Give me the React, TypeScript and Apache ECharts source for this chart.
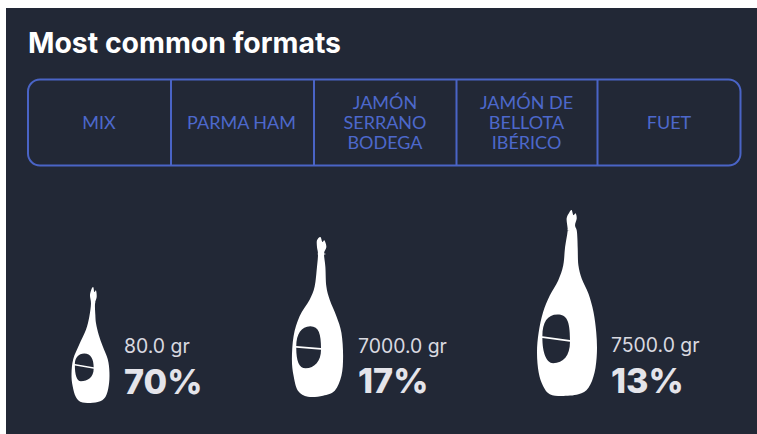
import React, { useEffect, useRef } from "react";
import * as echarts from "echarts";

const title = "Most common formats";
const tabs = [["MIX"], ["PARMA HAM"], ["JAMÓN", "SERRANO", "BODEGA"], ["JAMÓN DE", "BELLOTA", "IBÉRICO"], ["FUET"]];
const categories = ["Format A", "Format B", "Format C"];
const weights = ["80.0 gr", "7000.0 gr", "7500.0 gr"];
const shares = ["70%", "17%", "13%"];
const hamHeights = [116, 160, 186];

type P = number[][];
const closed = (pts: P) => {
  const n = pts.length;
  let d = `M${pts[0][0]} ${pts[0][1]}`;
  for (let i = 0; i < n; i++) {
    const a = pts[(i - 1 + n) % n], b = pts[i], c = pts[(i + 1) % n], e = pts[(i + 2) % n];
    const k = 1 / 6;
    d += `C${(b[0] + (c[0] - a[0]) * k).toFixed(1)} ${(b[1] + (c[1] - a[1]) * k).toFixed(1)} ${(c[0] - (e[0] - b[0]) * k).toFixed(1)} ${(c[1] - (e[1] - b[1]) * k).toFixed(1)} ${c[0]} ${c[1]}`;
  }
  return d + "Z";
};
const poly = (pts: P) => "M" + pts.map((p) => p.join(" ")).join("L") + "Z";

const ham1 =
  closed([[97,25],[102,20],[105,35],[110,30],[112,50],[107,70],[108,105],[110,130],[118,165],[130,200],[145,240],[150,280],[148,320],[138,355],[115,370],[70,372],[50,355],[40,320],[37,285],[42,240],[60,195],[80,150],[90,110],[95,70],[92,45]]) +
  "M103 264C103 240 95 222 75 222C58 222 47 235 47 254Z" +
  "M47 259C47 285 52 307 65 307C85 307 103 295 103 269Z" +
  poly([[95,67],[108,67],[108,69],[95,69]]);
const ham2 =
  closed([[112,30],[122,20],[128,35],[134,30],[140,50],[133,70],[137,110],[140,170],[150,210],[170,260],[185,310],[190,380],[185,440],[165,485],[130,500],[85,503],[55,485],[42,440],[37,390],[42,320],[60,260],[90,210],[105,170],[112,110],[115,72],[112,50]]) +
  "M124 356C124 315 118 290 92 290C65 290 50 315 50 350Z" +
  "M50 355C50 395 58 417 78 417C105 417 124 395 124 361Z" +
  poly([[114,70],[137,70],[137,73],[114,73]]);
const ham3 =
  closed([[133,22],[140,15],[145,30],[152,25],[155,40],[150,60],[155,75],[157,100],[158,130],[160,180],[170,220],[190,265],[205,320],[213,380],[215,440],[208,500],[190,545],[160,565],[110,570],[75,565],[55,540],[42,500],[37,440],[42,380],[55,320],[75,270],[100,225],[115,180],[120,130],[127,85],[128,70],[125,40]]) +
  "M135 403C135 345 125 327 98 327C68 327 53 350 53 392Z" +
  "M53 397C53 440 65 472 85 472C115 472 135 450 135 408Z" +
  poly([[128,73],[155,76],[155,78],[128,75]]);

const hamPaths = [ham1, ham2, ham3];
const hamWidths = [38, 51, 60];
const hamOffsets = [[0, 7], [-11, 1], [0.5, 0]];

const textX = [124, 358, 611];
const weightBaseline = [355, 355, 354];
const shareBaseline = [398, 397, 397];
const dividers = [171, 314, 456.5, 597.5];
const tabCenters = [99, 241.5, 385, 526.5, 669];

const LINE = "#4a64c6";
const FONT = "Inter";

export default function App() {
  const ref = useRef<HTMLDivElement>(null);
  useEffect(() => {
    const chart = echarts.init(ref.current!, null, { renderer: "svg" });
    const graphic: any[] = [
      { type: "rect", z: -10, shape: { x: 6, y: 8, width: 751, height: 426 }, style: { fill: "#222836" } },
      { type: "text", x: 28, y: 42, style: { text: title, fill: "#ffffff", font: `700 28.4px ${FONT}`, textVerticalAlign: "middle" } },
      { type: "rect", shape: { x: 28, y: 79.5, width: 712.5, height: 86, r: 12 }, style: { fill: "none", stroke: LINE, lineWidth: 2 } },
    ];
    dividers.forEach((x) =>
      graphic.push({ type: "line", shape: { x1: x, y1: 79.5, x2: x, y2: 165.5 }, style: { stroke: LINE, lineWidth: 2 } })
    );
    tabs.forEach((lines, i) => {
      lines.forEach((l, j) => {
        graphic.push({
          type: "text", x: tabCenters[i], y: 121.5 + (j - (lines.length - 1) / 2) * 20,
          style: { text: l, fill: "#4d68cc", font: `400 18px Lato`, textAlign: "center", textVerticalAlign: "middle" },
        });
      });
    });
    weights.forEach((w, i) => {
      graphic.push({ type: "text", x: textX[i], y: weightBaseline[i], style: { text: w, fill: "#d9d9e0", font: `400 19.4px ${FONT}`, textVerticalAlign: "bottom" } });
      graphic.push({ type: "text", x: textX[i], y: shareBaseline[i], style: { text: shares[i], fill: "#e4e4ea", font: `800 34.2px ${FONT}`, textVerticalAlign: "bottom" } });
    });
    chart.setOption({
      animation: false,
      backgroundColor: "#ffffff",
      grid: { left: -28.5, width: 714, top: 196, height: 200, outerBoundsMode: "none" },
      xAxis: { type: "category", data: categories, show: false },
      yAxis: { type: "value", min: 0, max: 200, show: false },
      graphic,
      series: [
        {
          type: "pictorialBar",
          symbolPosition: "start",
          z: 5,
          itemStyle: { color: "#ffffff" },
          data: hamHeights.map((v, i) => ({
            value: v,
            symbol: "path://" + hamPaths[i],
            symbolSize: [hamWidths[i], "100%"],
            symbolOffset: hamOffsets[i],
          })),
        },
      ],
    });
    return () => chart.dispose();
  }, []);
  return <div ref={ref} style={{ position: "fixed", left: 0, top: 0, width: 757, height: 434 }} />;
}
